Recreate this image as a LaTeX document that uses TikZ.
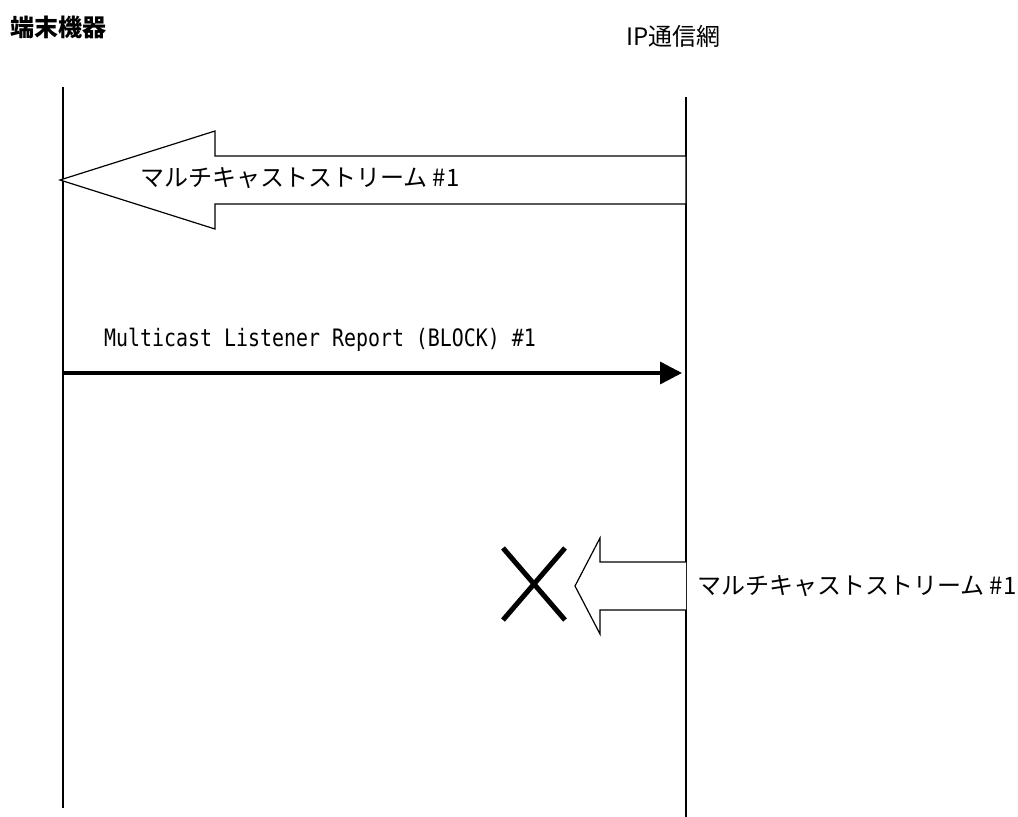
\documentclass[tikz,border=0pt]{standalone}
\usepackage{fontspec}
\usepackage{graphicx}
\newfontfamily\jp{Noto Sans CJK JP}
\newfontfamily\jpmono{DejaVu Sans Mono}
\usetikzlibrary{arrows.meta}
\begin{document}
\begin{tikzpicture}[x=1pt,y=-1pt,
  lifeline/.style={line width=1.6pt},
  fatarrow/.style={draw,fill=white,line width=1.2pt,line join=miter},
  msg/.style={line width=3.5pt,-{Triangle[length=22pt,width=22pt]}},
  txt/.style={anchor=west,inner sep=0pt,font=\jp\fontsize{24}{28}\selectfont},
  cross/.style={line width=5pt}]
\useasboundingbox (0,0) rectangle (1018,817);
% titles
\node[txt,font=\jp\bfseries\fontsize{24}{28}\selectfont] (t1) at (10,27) {端末機器};
\node[txt] (t2) at (626,36) {IP通信網};
% lifelines
\coordinate (Ltop) at (63,87);
\coordinate (Lbot) at (63,808);
\coordinate (Rtop) at (686,97);
\coordinate (Rbot) at (686,817);
\draw[lifeline] (Ltop) -- (Lbot);
\draw[lifeline] (Rtop) -- (Rbot);
% arrow 1
\coordinate (a1tip) at (60,180);
\draw[fatarrow] (a1tip) -- (215,131) -- (215,156) -- (686,156) -- (686,204) -- (215,204) -- (215,229) -- cycle;
\node[txt] (a1t) at (140,178) {マルチキャストストリーム \#1};
% arrow 2
\coordinate (m2s) at (63,373);
\coordinate (m2e) at (682,373);
\draw[msg] (m2s) -- (m2e);
\node[anchor=west,inner sep=0pt] (m2t) at (104,340) {\scalebox{0.83}[1]{\jpmono\fontsize{24}{28}\selectfont Multicast Listener Report (BLOCK) \#1}};
% arrow 3
\coordinate (a3tip) at (575,586);
\draw[fatarrow] (686,562) -- (600,562) -- (600,538) -- (a3tip) -- (600,634) -- (600,610) -- (686,610);
\draw[cross] (503,548) -- (565,620);
\draw[cross] (565,548) -- (503,620);
\node[txt] (a3t) at (697,586) {マルチキャストストリーム \#1};
\end{tikzpicture}
\end{document}
